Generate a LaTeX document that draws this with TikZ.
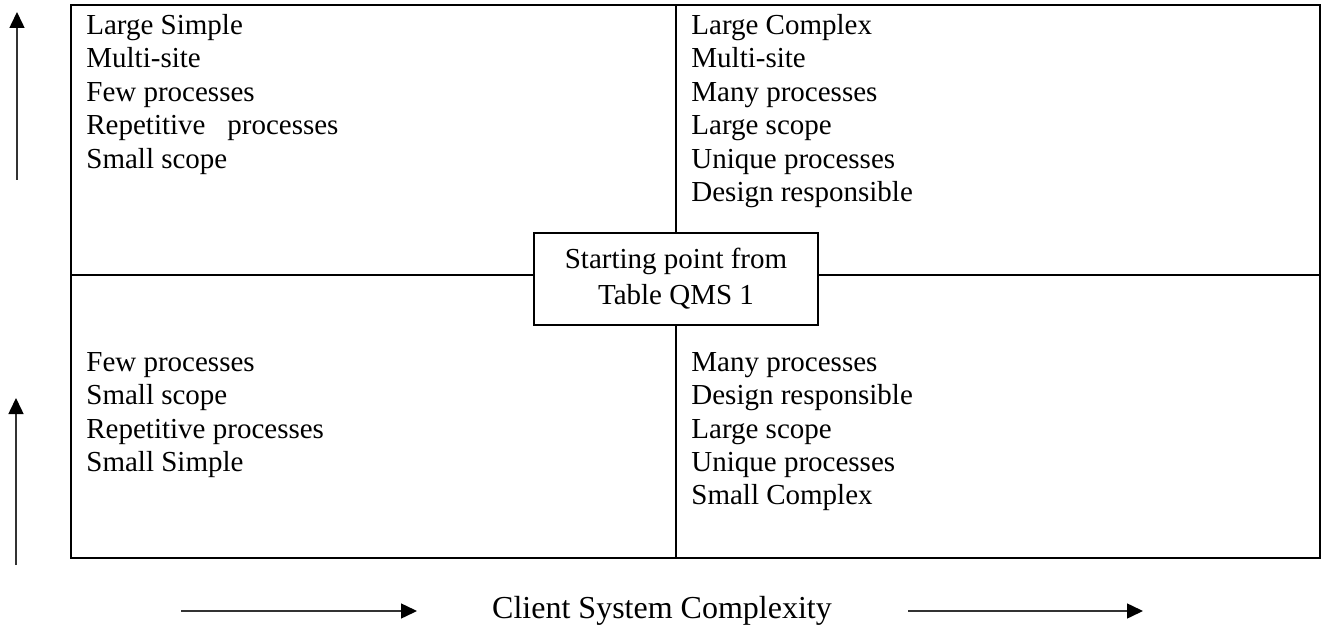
\documentclass[tikz,border=0pt]{standalone}
\usepackage{fontspec}
\setmainfont{Liberation Serif}
\usepackage{tikz}
\usetikzlibrary{
    positioning,
    arrows.meta
}
\tikzset{
    quadtext/.style={
        anchor=north west, inner sep=0pt, align=left,
        font=\fontsize{14.5}{16.7}\selectfont
    },
    startbox/.style={
        draw, line width=0.75pt, fill=white, align=center,
        minimum width=142pt, minimum height=46pt, inner sep=0pt,
        font=\fontsize{14.5}{18}\selectfont
    },
    axisarrow/.style={
        -{Triangle[length=8pt, width=7.5pt, color=black]}, line width=0.75pt, draw=black!80
    },
    gridline/.style={
        line width=0.75pt
    },
    framebox/.style={
        line width=1.3pt
    },
    axislabel/.style={
        font=\fontsize{16}{18}\selectfont
    }
}

\begin{document}
\begin{tikzpicture}[x=0.5pt, y=-0.5pt]
    \useasboundingbox (0,0) rectangle (1323,631);

    % --- FRAME & QUADRANT LINES ---
    \coordinate (fnw) at (71,5);
    \coordinate (fse) at (1320,558);
    \coordinate (midW) at (71,275);
    \coordinate (midE) at (1320,275);
    \coordinate (midN) at (676,5);
    \coordinate (midS) at (676,558);

    \draw[framebox] (fnw) rectangle (fse);
    \draw[gridline] (midW) -- (midE);
    \draw[gridline] (midN) -- (midS);

    % --- QUADRANTS ---
    \node[quadtext] (largesimple) at (86,14) {Large Simple\\Multi-site\\Few processes\\Repetitive \ \ processes\\Small scope};
    \node[quadtext] (largecomplex) at (691,14) {Large Complex\\Multi-site\\Many processes\\Large scope\\Unique processes\\Design responsible};
    \node[quadtext] (smallsimple) at (86,352) {Few processes\\Small scope\\Repetitive processes\\Small Simple};
    \node[quadtext] (smallcomplex) at (691,352) {Many processes\\Design responsible\\Large scope\\Unique processes\\Small Complex};

    % --- STARTING POINT ---
    \node[startbox] (start) at (676,279) {Starting point from\\Table QMS 1};

    % --- AXES ---
    \coordinate (upA0) at (17,180);
    \coordinate (upA1) at (17,12);
    \coordinate (upB0) at (16,565);
    \coordinate (upB1) at (16,398);
    \draw[axisarrow] (upA0) -- (upA1);
    \draw[axisarrow] (upB0) -- (upB1);

    \node[axislabel] (complexity) at (662,611) {Client System Complexity};
    \coordinate (rtA0) at (181,611);
    \coordinate (rtA1) at (417,611);
    \coordinate (rtB0) at (908,611);
    \coordinate (rtB1) at (1143,611);
    \draw[axisarrow] (rtA0) -- (rtA1);
    \draw[axisarrow] (rtB0) -- (rtB1);

\end{tikzpicture}
\end{document}
